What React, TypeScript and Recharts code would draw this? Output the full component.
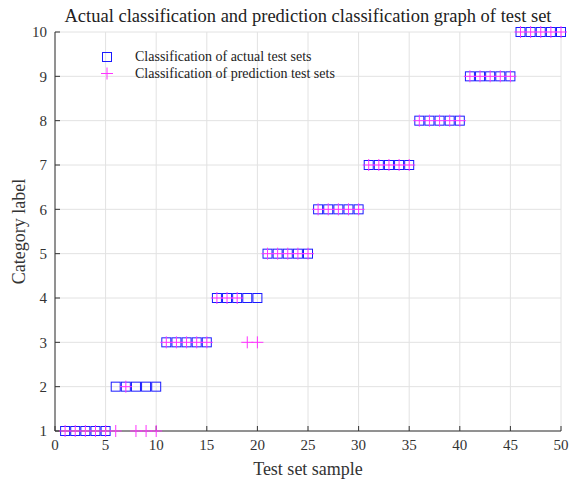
import React from 'react'
import { ScatterChart, Scatter, XAxis, YAxis, CartesianGrid } from 'recharts'

const samples = [
  1, 2, 3, 4, 5, 6, 7, 8, 9, 10, 11, 12, 13, 14, 15, 16, 17, 18, 19, 20, 21, 22, 23, 24, 25,
  26, 27, 28, 29, 30, 31, 32, 33, 34, 35, 36, 37, 38, 39, 40, 41, 42, 43, 44, 45, 46, 47, 48, 49, 50,
]
const actualLabels = [
  1, 1, 1, 1, 1, 2, 2, 2, 2, 2, 3, 3, 3, 3, 3, 4, 4, 4, 4, 4, 5, 5, 5, 5, 5,
  6, 6, 6, 6, 6, 7, 7, 7, 7, 7, 8, 8, 8, 8, 8, 9, 9, 9, 9, 9, 10, 10, 10, 10, 10,
]
const predictedLabels = [
  1, 1, 1, 1, 1, 1, 2, 1, 1, 1, 3, 3, 3, 3, 3, 4, 4, 4, 3, 3, 5, 5, 5, 5, 5,
  6, 6, 6, 6, 6, 7, 7, 7, 7, 7, 8, 8, 8, 8, 8, 9, 9, 9, 9, 9, 10, 10, 10, 10, 10,
]
const xTicks = [0, 5, 10, 15, 20, 25, 30, 35, 40, 45, 50]
const yTicks = [1, 2, 3, 4, 5, 6, 7, 8, 9, 10]

const actualData = samples.map((s, i) => ({ x: s, y: actualLabels[i] }))
const predictedData = samples.map((s, i) => ({ x: s, y: predictedLabels[i] }))

const serif = '"Liberation Serif", "DejaVu Serif", serif'

const SquareMark = ({ cx, cy }: any) => (
  <rect x={cx - 4.5} y={cy - 4.5} width={9} height={9} fill="none" stroke="#1a1aff" strokeWidth={1} />
)

const PlusMark = ({ cx, cy }: any) => (
  <g stroke="#ff33ff" strokeWidth={1}>
    <line x1={cx - 6} y1={cy} x2={cx + 6} y2={cy} />
    <line x1={cx} y1={cy - 6} x2={cx} y2={cy + 6} />
  </g>
)

const LegendBox = () => (
  <div style={{
    position: 'absolute', left: 97, top: 48,
    fontFamily: serif, fontSize: 14, color: '#222', lineHeight: '17px',
  }}>
    <div style={{ display: 'flex', alignItems: 'center' }}>
      <svg width={20} height={17}><rect x={5.5} y={4.5} width={9} height={9} fill="none" stroke="#1a1aff" /></svg>
      <span style={{ marginLeft: 18 }}>Classification of actual test sets</span>
    </div>
    <div style={{ display: 'flex', alignItems: 'center' }}>
      <svg width={20} height={17}>
        <g stroke="#ff33ff"><line x1={4} y1={8.5} x2={16} y2={8.5} /><line x1={10} y1={2.5} x2={10} y2={14.5} /></g>
      </svg>
      <span style={{ marginLeft: 18 }}>Classification of prediction test sets</span>
    </div>
  </div>
)

export default function App() {
  return (
    <div style={{ position: 'fixed', left: 0, top: 0, width: 571, height: 479, background: '#fff' }}>
      <ScatterChart width={571} height={479} margin={{ top: 32, right: 10, left: 15, bottom: 0 }}>
        <CartesianGrid stroke="#e2e2e2" strokeWidth={1} />
        <XAxis
          type="number" dataKey="x" domain={[0, 50]} ticks={xTicks} interval={0}
          height={48} tickSize={-5} tickMargin={13}
          axisLine={{ stroke: '#333' }} tickLine={{ stroke: '#333' }}
          tick={{ fill: '#333', fontSize: 15, fontFamily: serif }}
          label={{ value: 'Test set sample', position: 'insideBottom', offset: 4, fill: '#333', fontSize: 18, fontFamily: serif }}
        />
        <YAxis
          type="number" dataKey="y" domain={[1, 10]} ticks={yTicks} interval={0}
          width={40} tickSize={-5} tickMargin={13}
          axisLine={{ stroke: '#333' }} tickLine={{ stroke: '#333' }}
          tick={{ fill: '#333', fontSize: 15, fontFamily: serif }}
          label={{ value: 'Category label', angle: -90, position: 'insideLeft', offset: 0, dx: 4, fill: '#333', fontSize: 18, fontFamily: serif, style: { textAnchor: 'middle' } }}
        />
        <Scatter name="Classification of actual test sets" data={actualData} shape={<SquareMark />} isAnimationActive={false} />
        <Scatter name="Classification of prediction test sets" data={predictedData} shape={<PlusMark />} isAnimationActive={false} />
      </ScatterChart>
      <div style={{
        position: 'absolute', left: 55, width: 506, top: 5, textAlign: 'center',
        fontFamily: serif, fontSize: 18.5, lineHeight: '22px', color: '#222',
      }}>
        Actual classification and prediction classification graph of test set
      </div>
      <LegendBox />
    </div>
  )
}
